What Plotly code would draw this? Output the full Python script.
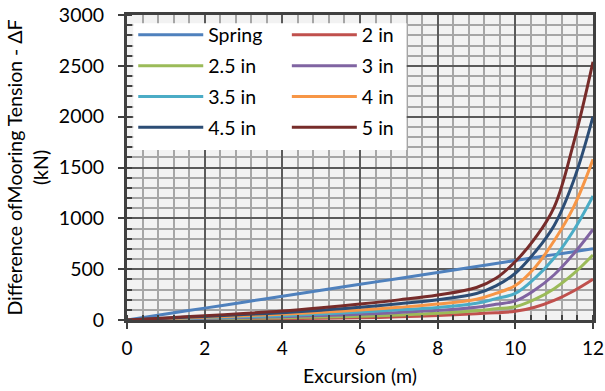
import plotly.graph_objects as go

excursion = [0, 1, 2, 3, 4, 5, 6, 7, 8, 9, 9.5, 10, 10.5, 11, 11.5, 12]
spring = [0, 58, 117, 175, 234, 292, 351, 409, 468, 526, 556, 585, 614, 643, 672, 700]
d2_0 = [0, 3, 6, 10, 13, 17, 21, 31, 44, 62, 72, 85, 125, 192, 285, 400]
d2_5 = [0, 5, 11, 17, 23, 29, 37, 50, 66, 90, 110, 131, 203, 308, 455, 640]
d3_0 = [0, 8, 16, 24, 33, 44, 56, 74, 95, 125, 155, 188, 295, 445, 650, 890]
d3_5 = [0, 10, 21, 32, 43, 60, 79, 100, 123, 165, 210, 262, 410, 610, 880, 1220]
d4_0 = [0, 13, 28, 42, 56, 76, 98, 125, 157, 205, 262, 340, 515, 780, 1110, 1580]
d4_5 = [0, 17, 35, 53, 72, 97, 125, 160, 200, 260, 335, 460, 665, 930, 1370, 2000]
d5_0 = [0, 20, 42, 64, 88, 120, 157, 198, 246, 320, 410, 575, 800, 1110, 1740, 2540]

series = [
    ("Spring", spring, "#4F81BD", "legend"),
    ("2 in", d2_0, "#C0504D", "legend2"),
    ("2.5 in", d2_5, "#9BBB59", "legend"),
    ("3 in", d3_0, "#8064A2", "legend2"),
    ("3.5 in", d3_5, "#4BACC6", "legend"),
    ("4 in", d4_0, "#F79646", "legend2"),
    ("4.5 in", d4_5, "#2C4D75", "legend"),
    ("5 in", d5_0, "#772C2A", "legend2"),
]

FONT = "Lato"
FS = 19.5
fig = go.Figure()
for name, vals, col, lg in series:
    fig.add_trace(go.Scatter(
        x=excursion, y=vals, name=name, mode="lines",
        line=dict(color=col, width=3, shape="spline", smoothing=1.1),
        legend=lg, legendgroup=name, showlegend=True,
    ))

# white legend box background
fig.add_shape(type="rect", xref="paper", yref="paper",
              x0=0.0134, x1=0.6, y0=0.557, y1=0.973,
              fillcolor="white", line=dict(width=0), layer="above")

leg_common = dict(
    bgcolor="rgba(0,0,0,0)", borderwidth=0, font=dict(family=FONT, size=FS, color="black"),
    tracegroupgap=2.5, xanchor="left", yanchor="top", itemwidth=65,
)
axis_common = dict(
    showline=True, linecolor="#404040", linewidth=3, mirror=True,
    ticks="outside", ticklen=6, tickwidth=1.5, tickcolor="#404040",
    showgrid=True, gridcolor="#5A5A5A", gridwidth=1.5, automargin=False,
    zeroline=False, ticklabeloverflow="allow",
)
fig.update_layout(
    width=605, height=391,
    margin=dict(l=127, r=12, t=15, b=71, autoexpand=False),
    paper_bgcolor="white", plot_bgcolor="#F2F2F2",
    font=dict(family=FONT, size=FS, color="black"),
    showlegend=True,
    legend=dict(x=0.0134, y=0.998, **leg_common),
    legend2=dict(x=0.343, y=0.998, **leg_common),
    xaxis=dict(
        range=[0, 12], dtick=2, tick0=0, ticklabelstandoff=3,
        tickfont=dict(family=FONT, size=19),
        minor=dict(dtick=0.4, showgrid=True, gridcolor="#A6A6A6", gridwidth=1.5,
                   ticks="inside", ticklen=5, tickcolor="#404040", tickwidth=1.5),
        title=dict(text="Excursion (m)", font=dict(family=FONT, size=FS), standoff=12),
        **axis_common,
    ),
    yaxis=dict(
        range=[0, 3000], dtick=500, tick0=0, ticklabelstandoff=10,
        tickfont=dict(family=FONT, size=FS),
        minor=dict(dtick=100, showgrid=True, gridcolor="#A6A6A6", gridwidth=1.5,
                   ticks="inside", ticklen=5, tickcolor="#404040", tickwidth=1.5),
        title=dict(text="Difference ofMooring Tension - ΔF<br>(kN)",
                   font=dict(family=FONT, size=FS), standoff=6),
        **axis_common,
    ),
)
fig.write_html("out.html")
